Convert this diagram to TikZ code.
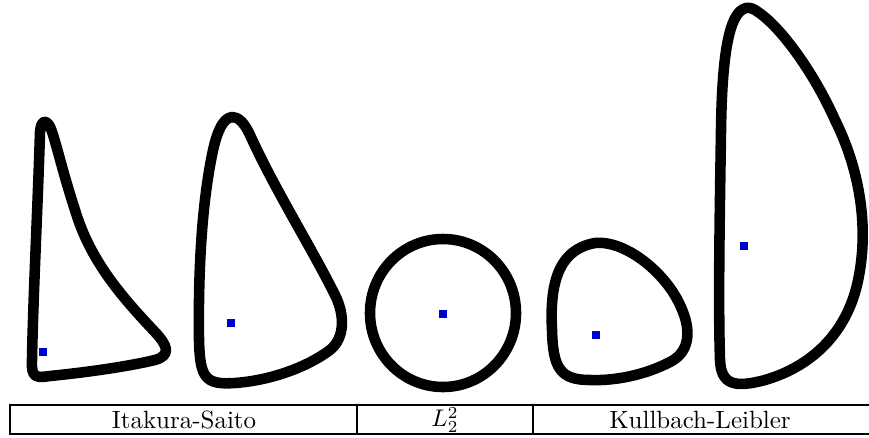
\documentclass[tikz,border=0pt]{standalone}
\usetikzlibrary{positioning}
\definecolor{dotblue}{RGB}{0,0,205}
\tikzstyle{contour}=[draw=black, line width=4.4pt, line join=round]
\tikzstyle{centre}=[fill=dotblue, inner sep=0pt, minimum size=3.4pt]
\tikzstyle{cell}=[draw=black, line width=0.55pt]
\tikzstyle{label}=[font=\fontsize{10.4}{12}\selectfont, inner sep=0pt]

\begin{document}
\begin{tikzpicture}[x=0.4167pt, y=-0.4167pt]

    \useasboundingbox (0,0) rectangle (869,437);

    % CURVE 1
    \draw[contour] (40,132) .. controls (38,200) and (33,300) .. (32,360)
        .. controls (31,378) and (36,378) .. (50,376)
        .. controls (90,372) and (130,366) .. (155,360)
        .. controls (172,355) and (167,345) .. (155,332)
        .. controls (120,295) and (90,260) .. (75,210)
        .. controls (62,170) and (56,142) .. (51,129)
        .. controls (47,119) and (41,119) .. cycle;
    \node[centre] (c1) at (43,352) {};

    % CURVE 2
    \draw[contour] (232,117) .. controls (222,118) and (216,135) .. (212,155)
        .. controls (203,200) and (198,260) .. (199,340)
        .. controls (200,378) and (205,385) .. (235,383)
        .. controls (275,380) and (310,365) .. (330,350)
        .. controls (345,338) and (345,315) .. (335,295)
        .. controls (310,245) and (275,190) .. (250,135)
        .. controls (244,122) and (238,117) .. cycle;
    \node[centre] (c2) at (231,323) {};

    % CURVE 3
    \draw[contour] (443,313) ellipse [x radius=73, y radius=74];
    \node[centre] (c3) at (443,314) {};

    % CURVE 4
    \draw[contour] (552,330) .. controls (550,290) and (555,250) .. (595,243)
        .. controls (625,240) and (665,272) .. (680,305)
        .. controls (692,330) and (690,352) .. (670,362)
        .. controls (645,375) and (615,381) .. (590,380)
        .. controls (560,380) and (553,368) .. cycle;
    \node[centre] (c4) at (596,335) {};

    % CURVE 5
    \draw[contour] (746,8) .. controls (728,12) and (722,60) .. (721,130)
        .. controls (720,200) and (718,300) .. (720,360)
        .. controls (721,385) and (735,388) .. (765,380)
        .. controls (810,367) and (845,335) .. (857,285)
        .. controls (870,230) and (860,170) .. (835,120)
        .. controls (815,75) and (782,28) .. (758,12)
        .. controls (754,9) and (750,7) .. cycle;
    \node[centre] (c5) at (744,246) {};

    % TABLE
    \draw[cell] (10,405) rectangle (357,434);
    \draw[cell] (357,405) rectangle (533,434);
    \draw[cell] (869,405) -- (533,405) -- (533,434) -- (869,434);
    \node[label] (is) at (184,420) {Itakura-Saito};
    \node[label] (l2) at (445,420) {$L_2^2$};
    \node[label] (kl) at (700,420) {Kullbach-Leibler};

\end{tikzpicture}
\end{document}
